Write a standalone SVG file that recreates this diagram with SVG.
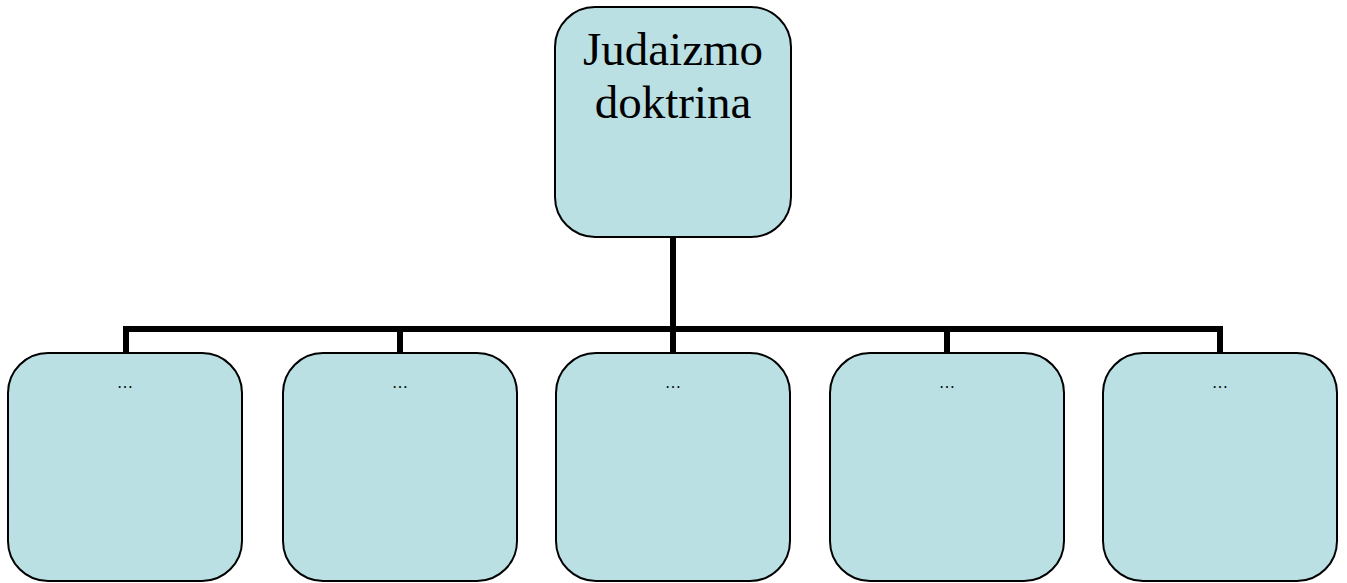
<svg xmlns="http://www.w3.org/2000/svg" width="1347" height="583" viewBox="0 0 1347 583">
<style>
.box{fill:#bae0e3;stroke:#000;stroke-width:2}
.conn{fill:none;stroke:#000;stroke-width:6}
.big{font-family:"Liberation Serif",serif;font-size:47px;fill:#000;text-anchor:middle}
.small{font-family:"Liberation Serif",serif;font-size:16px;fill:#000;text-anchor:middle}
</style>
<rect width="1347" height="583" fill="#fff"/>
<g id="connectors">
<path class="conn" d="M673,237 V353 M126,353 V329 H1220 V353 M400,329 V353 M947,329 V353"/>
</g>
<g id="root">
<rect class="box" x="555" y="7" width="236" height="230" rx="40"/>
<text class="big" x="673" y="65">Judaizmo</text>
<text class="big" x="673" y="118">doktrina</text>
</g>
<g id="child1">
<rect class="box" x="8" y="353" width="234" height="228" rx="40"/>
<text class="small" x="125" y="388">…</text>
</g>
<g id="child2">
<rect class="box" x="283" y="353" width="234" height="228" rx="40"/>
<text class="small" x="400" y="388">…</text>
</g>
<g id="child3">
<rect class="box" x="556" y="353" width="234" height="228" rx="40"/>
<text class="small" x="673" y="388">…</text>
</g>
<g id="child4">
<rect class="box" x="830" y="353" width="234" height="228" rx="40"/>
<text class="small" x="947" y="388">…</text>
</g>
<g id="child5">
<rect class="box" x="1103" y="353" width="234" height="228" rx="40"/>
<text class="small" x="1220" y="388">…</text>
</g>
</svg>
